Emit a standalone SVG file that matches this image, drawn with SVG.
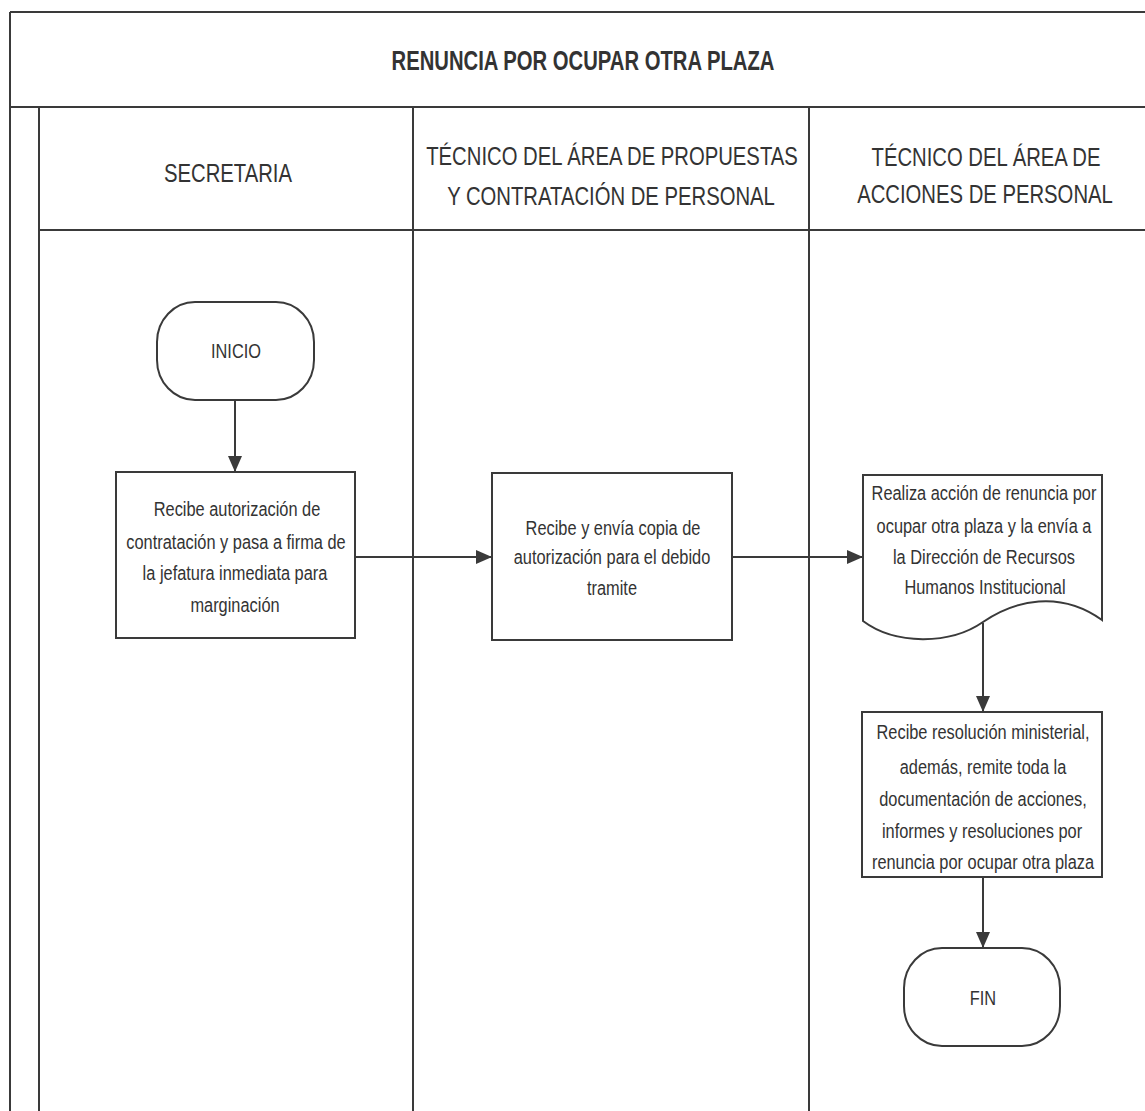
<svg xmlns="http://www.w3.org/2000/svg" width="1145" height="1111" viewBox="0 0 1145 1111">
<style>
.frame{stroke:#3a3a3a;stroke-width:2;fill:none}
.shape{stroke:#3a3a3a;stroke-width:2;fill:#fff}
.conn{stroke:#3a3a3a;stroke-width:2;fill:none}
text{font-family:"Liberation Sans",Arial,sans-serif;fill:#333;text-anchor:middle}
.title{font-size:27px;font-weight:bold}
.head{font-size:26px}
.body{font-size:21px}
</style>
<defs>
<marker id="arr" viewBox="0 0 16 14" refX="16" refY="7" markerWidth="16" markerHeight="14" markerUnits="userSpaceOnUse" orient="auto">
<path d="M0,0 L16,7 L0,14 Z" fill="#3a3a3a"/>
</marker>
</defs>
<rect width="1145" height="1111" fill="#fff"/>
<g id="frame">
<line class="frame" x1="10" y1="12" x2="1145" y2="12"/>
<line class="frame" x1="10" y1="12" x2="10" y2="1111"/>
<line class="frame" x1="10" y1="107" x2="1145" y2="107"/>
<line class="frame" x1="39" y1="107" x2="39" y2="1111"/>
<line class="frame" x1="39" y1="230" x2="1145" y2="230"/>
<line class="frame" x1="413" y1="107" x2="413" y2="1111"/>
<line class="frame" x1="809" y1="107" x2="809" y2="1111"/>
<text class="title" transform="translate(583,70) scale(0.75,1)">RENUNCIA POR OCUPAR OTRA PLAZA</text>
<text class="head" transform="translate(228,182) scale(0.78,1)">SECRETARIA</text>
<text class="head" transform="translate(612,165) scale(0.78,1)">TÉCNICO DEL ÁREA DE PROPUESTAS</text>
<text class="head" transform="translate(611,205) scale(0.78,1)">Y CONTRATACIÓN DE PERSONAL</text>
<text class="head" transform="translate(986,166) scale(0.78,1)">TÉCNICO DEL ÁREA DE</text>
<text class="head" transform="translate(985,203) scale(0.78,1)">ACCIONES DE PERSONAL</text>
</g>
<g id="connectors">
<line class="conn" x1="235" y1="400" x2="235" y2="472" marker-end="url(#arr)"/>
<line class="conn" x1="355" y1="557" x2="492" y2="557" marker-end="url(#arr)"/>
<line class="conn" x1="732" y1="557" x2="863" y2="557" marker-end="url(#arr)"/>
<line class="conn" x1="983" y1="623" x2="983" y2="712" marker-end="url(#arr)"/>
<line class="conn" x1="983" y1="877" x2="983" y2="948" marker-end="url(#arr)"/>
</g>
<g id="inicio">
<rect class="shape" x="157" y="302" width="157" height="98" rx="38" ry="40"/>
<text class="body" transform="translate(236,358) scale(0.78,1)">INICIO</text>
</g>
<g id="recibe-autorizacion">
<rect class="shape" x="116" y="472" width="239" height="166"/>
<text class="body" transform="translate(237,516) scale(0.78,1)">Recibe autorización de</text>
<text class="body" transform="translate(236,549) scale(0.78,1)">contratación y pasa a firma de</text>
<text class="body" transform="translate(235,580) scale(0.78,1)">la jefatura inmediata para</text>
<text class="body" transform="translate(235,612) scale(0.78,1)">marginación</text>
</g>
<g id="recibe-envia">
<rect class="shape" x="492" y="473" width="240" height="167"/>
<text class="body" transform="translate(613,535) scale(0.78,1)">Recibe y envía copia de</text>
<text class="body" transform="translate(612,564) scale(0.78,1)">autorización para el debido</text>
<text class="body" transform="translate(612,595) scale(0.78,1)">tramite</text>
</g>
<g id="realiza-accion">
<path class="shape" d="M863,475 H1102 V620 C1060,590 1015,600 983,622 C950,645 895,645 863,621 Z"/>
<text class="body" transform="translate(984,500) scale(0.78,1)">Realiza acción de renuncia por</text>
<text class="body" transform="translate(984,533) scale(0.78,1)">ocupar otra plaza y la envía a</text>
<text class="body" transform="translate(984,564) scale(0.78,1)">la Dirección de Recursos</text>
<text class="body" transform="translate(985,594) scale(0.78,1)">Humanos Institucional</text>
</g>
<g id="recibe-resolucion">
<rect class="shape" x="862" y="712" width="240" height="165"/>
<text class="body" transform="translate(983,739) scale(0.78,1)">Recibe resolución ministerial,</text>
<text class="body" transform="translate(983,774) scale(0.78,1)">además, remite toda la</text>
<text class="body" transform="translate(983,806) scale(0.78,1)">documentación de acciones,</text>
<text class="body" transform="translate(982,838) scale(0.78,1)">informes y resoluciones por</text>
<text class="body" transform="translate(983,869) scale(0.78,1)">renuncia por ocupar otra plaza</text>
</g>
<g id="fin">
<rect class="shape" x="904" y="948" width="156" height="98" rx="38" ry="40"/>
<text class="body" transform="translate(983,1005) scale(0.78,1)">FIN</text>
</g>
</svg>
